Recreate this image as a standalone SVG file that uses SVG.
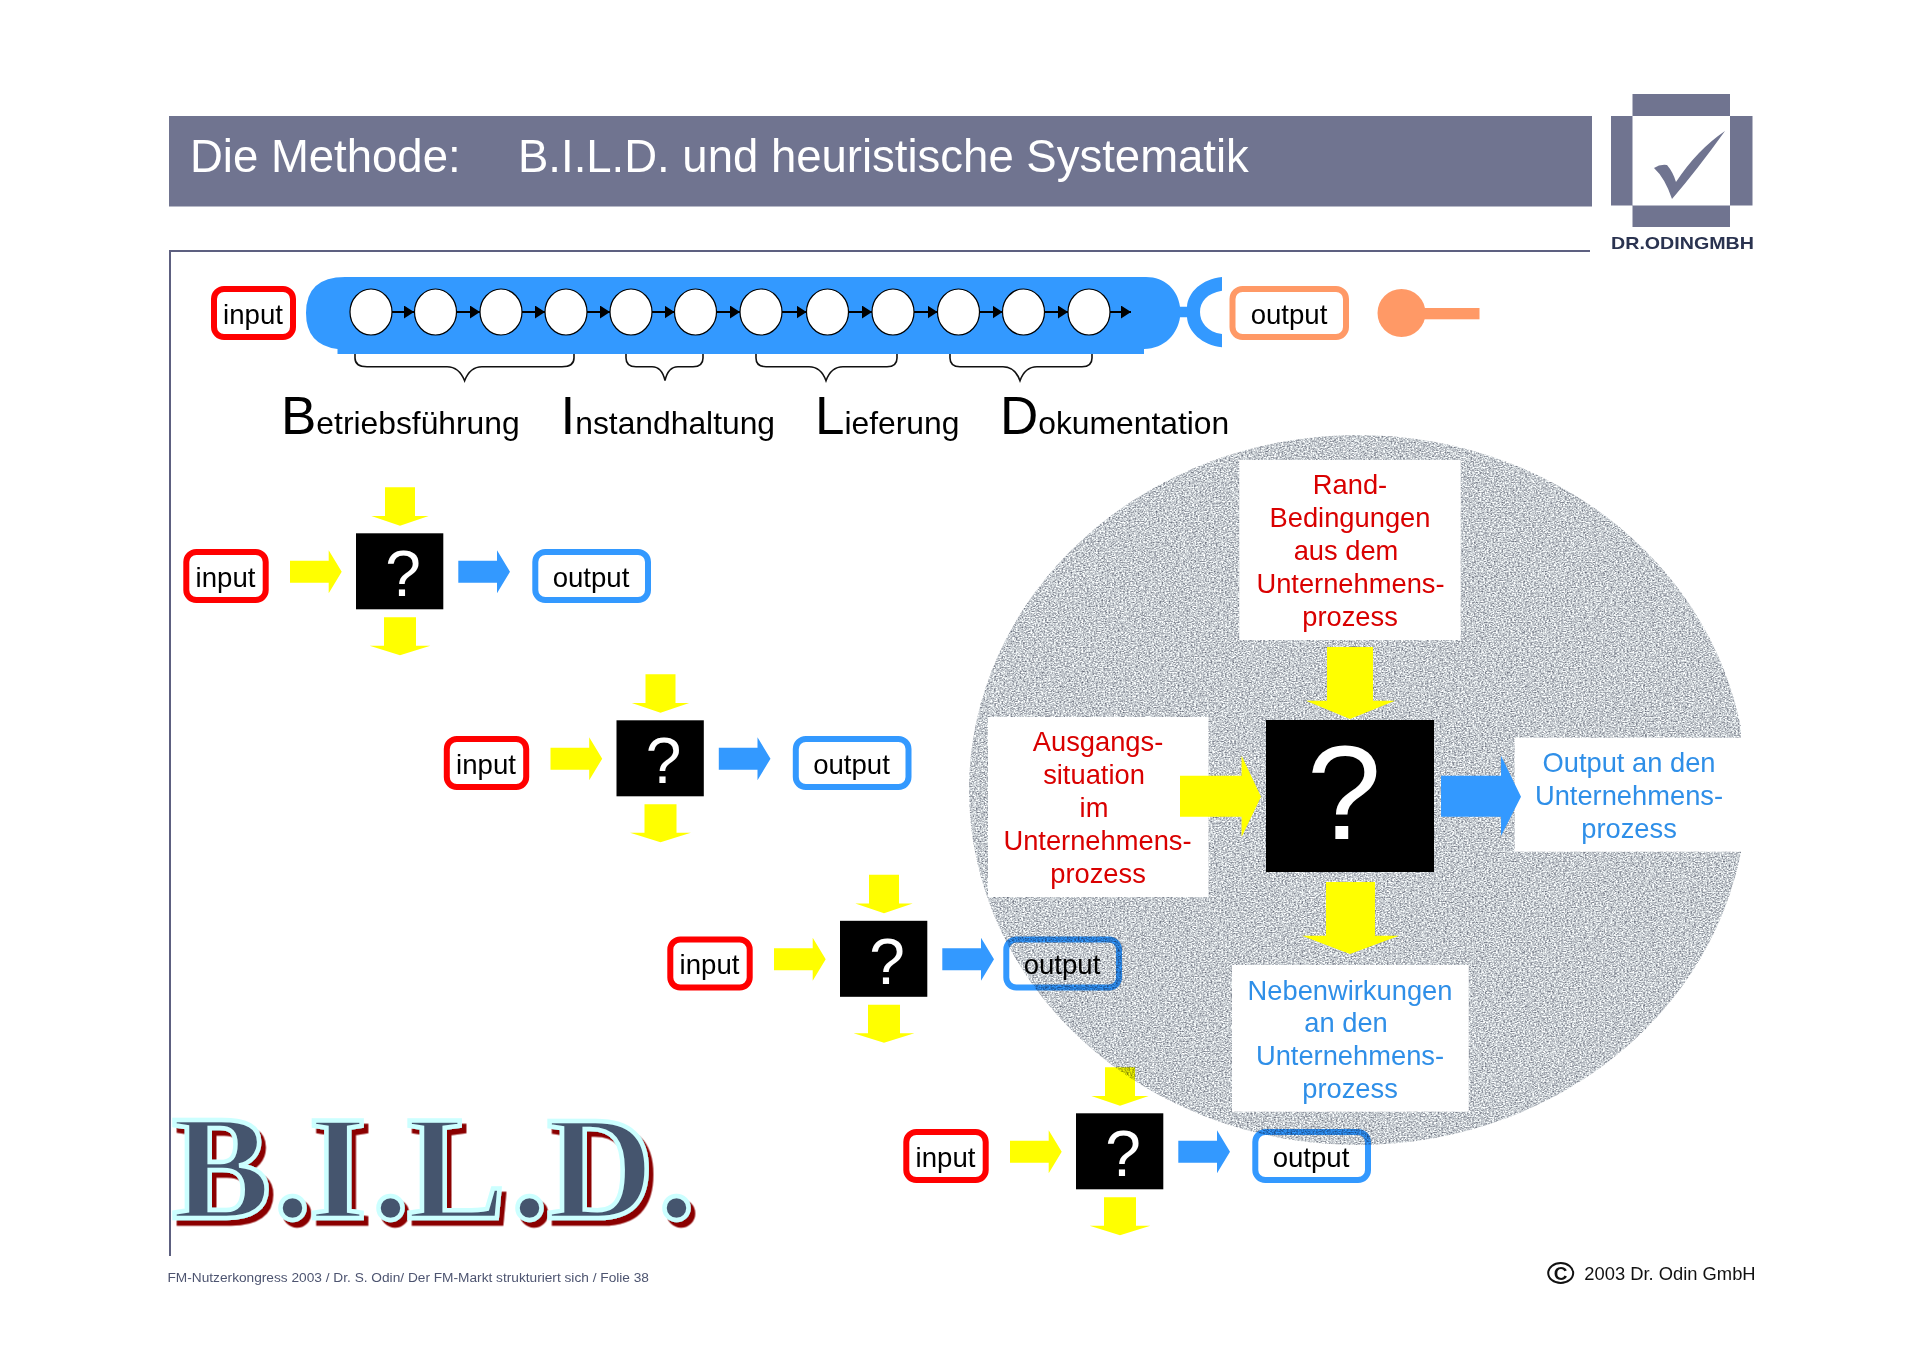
<svg xmlns="http://www.w3.org/2000/svg" xmlns:xlink="http://www.w3.org/1999/xlink" width="1920" height="1357" viewBox="0 0 1920 1357">
<style>
text{font-family:"Liberation Sans",Arial,sans-serif}
.t{font-size:27.6px;fill:#000;text-anchor:middle}
.r{font-size:27.3px;fill:#d90000;text-anchor:middle}
.b{font-size:27.3px;fill:#2f8fe8;text-anchor:middle}
.q{fill:#fff;text-anchor:middle}
.in{fill:#fff;stroke:#f00;stroke-width:6}
.out{fill:none;stroke:#39f;stroke-width:6}
.bar{fill:#39f}
.ov{fill:#fff;stroke:#000;stroke-width:1.2}
.y{fill:#ff0}
.bl{fill:#39f}
.mul{mix-blend-mode:multiply}
.hd{fill:#707490}
.br{fill:none;stroke:#111;stroke-width:1.6}
.big{font-size:53px;fill:#000}
.sm{font-size:31.800px;fill:#000}
</style>
<defs>
<filter id="noise" x="0" y="0" width="100%" height="100%" color-interpolation-filters="sRGB">
<feTurbulence type="fractalNoise" baseFrequency="0.55 0.8" numOctaves="2" seed="4" result="n"/>
<feColorMatrix in="n" type="matrix" values="1.05 0 0 0 0.25  1.05 0 0 0 0.27  0.95 0 0 0 0.34  0 0 0 0 1" result="c"/>
<feComposite in="c" in2="SourceGraphic" operator="in"/>
</filter>
<clipPath id="cut"><rect x="960" y="430" width="781" height="720"/></clipPath>
<filter id="sh" x="-5%" y="-10%" width="115%" height="125%"><feDropShadow dx="4.500" dy="5.500" stdDeviation="0" flood-color="#8b0000"/></filter>
<path id="aR" d="M0-11H38.7V-21.5L51.7 0 38.7 21.5V11H0Z"/>
<path id="aT" d="M-15 0H15V28.7H28.7L0 38.4-28.7 28.7H-15Z"/>
<path id="aB" d="M-16 0H16V28.4H30.4L0 38-30.4 28.4H-16Z"/>
<marker id="tip" markerWidth="11" markerHeight="13" refX="10" refY="6.5" orient="auto" markerUnits="userSpaceOnUse"><path d="M0 0L10 6.5 0 13Z" fill="#000"/></marker>
</defs>
<rect width="1920" height="1357" fill="#fff"/>

<g id="header">
<rect class="hd" x="169" y="116" width="1423" height="90.500"/>
<text x="190" y="171.500" font-size="45.500" fill="#fff">Die Methode:<tspan x="518">B.I.L.D. und heuristische Systematik</tspan></text>
<path d="M170 251H1590M170 250V1256" stroke="#5d6080" stroke-width="2" fill="none"/>
</g>
<g id="logo" transform="translate(-3 0)">
<path class="hd" d="M1635.500 94H1733V116H1755.500V205.500H1733V227H1635.500V205.500H1614V116H1635.500Z"/>
<rect x="1635.500" y="116" width="97.500" height="89.500" fill="#fff"/>
<path class="hd" d="M1728 131Q1700 170 1675 199Q1668 178 1657 168Q1663 164 1670 165Q1676 172 1679 182Q1700 150 1728 131Z"/>
<text x="1614" y="249" font-size="17" font-weight="700" fill="#2a3350" textLength="143" lengthAdjust="spacingAndGlyphs">DR.ODINGMBH</text>
</g>

<g id="scope-circle"><ellipse cx="1358" cy="790" rx="389" ry="355" fill="#000" filter="url(#noise)" clip-path="url(#cut)"/></g>

<g id="top-input"><rect class="in" x="214" y="289" width="79" height="48" rx="10"/><text class="t" x="253" y="323.500">input</text></g>
<g id="process-bar">
<path class="bar" d="M337.500 354V349Q306 345 306 313Q306 277 345 277H1146C1165 277 1178 290 1180 306.700H1187C1188 292 1202 279 1222 277V290.700C1207 293 1200 302 1200 312C1200 322 1207 332 1222 334V347.300C1202 345 1188 332 1187 317.300H1180C1178 333 1165 349 1144 349V354Z"/>
<ellipse class="ov" cx="371" cy="312" rx="21" ry="23"/><ellipse class="ov" cx="435.500" cy="312" rx="21" ry="23"/><ellipse class="ov" cx="501" cy="312" rx="21" ry="23"/><ellipse class="ov" cx="566" cy="312" rx="21" ry="23"/><ellipse class="ov" cx="631" cy="312" rx="21" ry="23"/><ellipse class="ov" cx="695.500" cy="312" rx="21" ry="23"/><ellipse class="ov" cx="761" cy="312" rx="21" ry="23"/><ellipse class="ov" cx="827.500" cy="312" rx="21" ry="23"/><ellipse class="ov" cx="893" cy="312" rx="21" ry="23"/><ellipse class="ov" cx="958.500" cy="312" rx="21" ry="23"/><ellipse class="ov" cx="1023.500" cy="312" rx="21" ry="23"/><ellipse class="ov" cx="1089" cy="312" rx="21" ry="23"/>
</g>
<g id="top-output"><rect x="1232.500" y="289" width="113.500" height="48" rx="10" fill="#fff" stroke="#f96" stroke-width="6"/><text class="t" x="1289" y="323.500">output</text></g>
<g id="pin"><ellipse cx="1401.500" cy="313" rx="24" ry="24" fill="#f96"/><rect x="1418" y="308" width="61.500" height="11.300" fill="#f96"/></g>

<g id="phases">
<path class="br" d="M355 354V358Q355 366.700 367 366.700H447Q459 366.700 464.600 380.700Q470 366.700 482 366.700H562Q574 366.700 574 358V354"/>
<path class="br" d="M626 354V358Q626 366.700 636 366.700H652Q662 366.700 665 380.700Q668 366.700 678 366.700H693Q703 366.700 703 358V354"/>
<path class="br" d="M756 354V358Q756 366.700 766 366.700H809Q821 366.700 826 380.700Q831 366.700 843 366.700H887Q897 366.700 897 358V354"/>
<path class="br" d="M950 354V358Q950 366.700 960 366.700H1003Q1015 366.700 1020 380.700Q1025 366.700 1037 366.700H1082Q1092 366.700 1092 358V354"/>
<text x="281" y="434" class="sm"><tspan class="big">B</tspan>etriebsführung</text>
<text x="560.500" y="434" class="sm"><tspan class="big">I</tspan>nstandhaltung</text>
<text x="815" y="434" class="sm"><tspan class="big">L</tspan>ieferung</text>
<text x="1000" y="434" class="sm"><tspan class="big">D</tspan>okumentation</text>
</g>

<g id="unit1-input"><rect class="in" x="186.300" y="552" width="79.400" height="48" rx="10"/><text class="t" x="225.500" y="586.500">input</text></g>
<g id="unit1-box"><rect x="356" y="533.300" width="87.300" height="76"/><text class="q" x="403" y="596" font-size="64">?</text></g>
<g id="unit1-output"><rect class="out" x="535.300" y="552" width="112.700" height="48" rx="10"/><text class="t" x="591" y="586.500">output</text></g>

<g id="unit2-input"><rect class="in" x="446.800" y="739" width="79.400" height="48" rx="10"/><text class="t" x="486" y="773.500">input</text></g>
<g id="unit2-box"><rect x="616.500" y="720.300" width="87.300" height="76"/><text class="q" x="663.500" y="783" font-size="64">?</text></g>
<g id="unit2-output"><rect class="out" x="795.800" y="739" width="112.700" height="48" rx="10"/><text class="t" x="851.500" y="773.500">output</text></g>

<g id="unit3-input"><rect class="in" x="670.300" y="939.500" width="79.400" height="48" rx="10"/><text class="t" x="709.500" y="974">input</text></g>
<g id="unit3-box"><rect x="840" y="920.800" width="87.300" height="76"/><text class="q" x="887" y="983.500" font-size="64">?</text></g>
<g id="unit3-output"><rect class="out mul" x="1006.300" y="939.500" width="112.700" height="48" rx="10"/><text class="t" x="1062" y="974">output</text></g>

<g id="unit4-input"><rect class="in" x="906.300" y="1132" width="79.400" height="48" rx="10"/><text class="t" x="945.500" y="1166.500">input</text></g>
<g id="unit4-box"><rect x="1076" y="1113.300" width="87.300" height="76"/><text class="q" x="1123" y="1176" font-size="64">?</text></g>
<g id="unit4-output"><rect class="out mul" x="1255.300" y="1132" width="112.700" height="48" rx="10"/><text class="t" x="1311" y="1166.500">output</text></g>

<g id="label-rand"><rect x="1239.300" y="460" width="221.400" height="180" fill="#fff"/>
<text class="r" x="1350" y="494.300">Rand-</text><text class="r" x="1350" y="527">Bedingungen</text><text class="r" x="1346" y="560">aus dem</text><text class="r" x="1350.500" y="592.700">Unternehmens-</text><text class="r" x="1350" y="625.700">prozess</text></g>
<g id="label-ausgang"><rect x="988" y="717" width="220.500" height="180" fill="#fff"/>
<text class="r" x="1098" y="751">Ausgangs-</text><text class="r" x="1094" y="784">situation</text><text class="r" x="1094" y="817">im</text><text class="r" x="1097.500" y="850">Unternehmens-</text><text class="r" x="1098" y="883">prozess</text></g>
<g id="label-output"><rect x="1514.600" y="737.700" width="230" height="114" fill="#fff"/>
<text class="b" x="1629" y="772">Output an den</text><text class="b" x="1629" y="804.500">Unternehmens-</text><text class="b" x="1629" y="838">prozess</text></g>
<g id="label-neben"><rect x="1232" y="965" width="236.700" height="146.700" fill="#fff"/>
<text class="b" x="1350" y="999.500">Nebenwirkungen</text><text class="b" x="1346" y="1032">an den</text><text class="b" x="1350" y="1065">Unternehmens-</text><text class="b" x="1350" y="1098">prozess</text></g>
<g id="center-box"><rect x="1266" y="720" width="168" height="152"/><text class="q" x="1344" y="839" font-size="134">?</text></g>

<g id="connectors">
<g stroke="#000" stroke-width="2" fill="none">
<path d="M392 312H414" marker-end="url(#tip)"/><path d="M456.500 312H480" marker-end="url(#tip)"/><path d="M522 312H545" marker-end="url(#tip)"/><path d="M587 312H610" marker-end="url(#tip)"/><path d="M652 312H674.500" marker-end="url(#tip)"/><path d="M716.500 312H740" marker-end="url(#tip)"/><path d="M782 312H806.500" marker-end="url(#tip)"/><path d="M848.500 312H872" marker-end="url(#tip)"/><path d="M914 312H937.500" marker-end="url(#tip)"/><path d="M979.500 312H1002.500" marker-end="url(#tip)"/><path d="M1044.500 312H1068" marker-end="url(#tip)"/><path d="M1110 312H1131" marker-end="url(#tip)"/>
</g>
<use xlink:href="#aR" class="y" transform="translate(290 571.700)"/><use xlink:href="#aR" class="bl" transform="translate(458.300 571.700)"/><use xlink:href="#aT" class="y" transform="translate(400 487.300)"/><use xlink:href="#aB" class="y" transform="translate(400 617.300)"/>
<use xlink:href="#aR" class="y" transform="translate(550.500 758.700)"/><use xlink:href="#aR" class="bl" transform="translate(718.800 758.700)"/><use xlink:href="#aT" class="y" transform="translate(660.500 674.300)"/><use xlink:href="#aB" class="y" transform="translate(660.500 804.300)"/>
<use xlink:href="#aR" class="y" transform="translate(774 959.200)"/><use xlink:href="#aR" class="bl" transform="translate(942.300 959.200)"/><use xlink:href="#aT" class="y" transform="translate(884 874.800)"/><use xlink:href="#aB" class="y" transform="translate(884 1004.800)"/>
<use xlink:href="#aR" class="y" transform="translate(1010 1151.700)"/><use xlink:href="#aR" class="bl" transform="translate(1178.300 1151.700)"/><use xlink:href="#aT" class="y mul" transform="translate(1120 1067.300)"/><use xlink:href="#aB" class="y" transform="translate(1120 1197.300)"/>
<path class="y" d="M1327 647H1373V700.700H1395L1350 719 1306 700.700H1327Z"/>
<path class="y" d="M1180 775.700H1241.600V755.700L1261 796.700 1241.600 837V816.700H1180Z"/>
<path class="bl" d="M1441 775.700H1501V755.700L1521 796.700 1501 836V816.700H1441Z"/>
<path class="y" d="M1326 882H1375V935.700H1399L1350 954 1302 935.700H1326Z"/>
</g>

<g id="bild-title"><text x="172 274 309 372 407 511 547 658" y="1218" font-size="148" font-weight="700" style="font-family:'Liberation Serif',serif" fill="#44546e" stroke="#ccffff" stroke-width="4.500" filter="url(#sh)">B.I.L.D.</text></g>
<g id="footer">
<text x="167.500" y="1282" font-size="13.700" fill="#4d5470">FM-Nutzerkongress 2003 / Dr. S. Odin/ Der FM-Markt strukturiert sich / Folie 38</text>
<ellipse cx="1560.700" cy="1273" rx="12.500" ry="10" fill="none" stroke="#111" stroke-width="2"/>
<text x="1560.700" y="1280" font-size="19" font-weight="700" fill="#111" text-anchor="middle">C</text>
<text x="1584.300" y="1280" font-size="18.350" fill="#111">2003 Dr. Odin GmbH</text>
</g>
</svg>
